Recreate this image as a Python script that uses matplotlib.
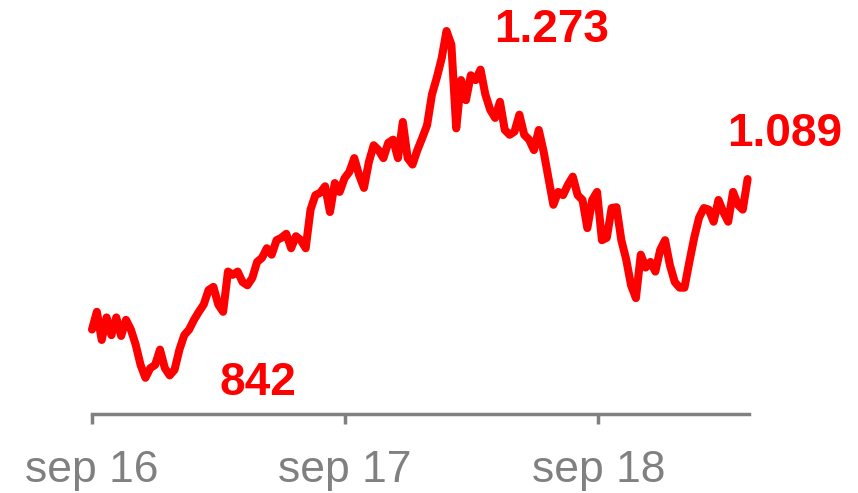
import matplotlib.pyplot as plt
import pandas as pd

# weekly closes, sep 2016 - apr 2019
start = "2016-09-01"
closes = [
    902, 924, 889, 917, 895, 917, 894, 914, 902, 883,
    858, 842, 854, 858, 877, 854, 845, 852, 877, 895,
    902, 914, 924, 933, 951, 955, 933, 924, 974, 970,
    974, 961, 957, 966, 986, 991, 1003, 995, 1013, 1016,
    1021, 1003, 1018, 1013, 1003, 1051, 1069, 1072, 1080, 1048,
    1084, 1073, 1090, 1098, 1115, 1094, 1078, 1110, 1131, 1125,
    1115, 1134, 1138, 1115, 1160, 1115, 1107, 1125, 1140, 1156,
    1194, 1215, 1239, 1273, 1256, 1152, 1212, 1187, 1218, 1212,
    1225, 1194, 1175, 1165, 1185, 1150, 1144, 1148, 1169, 1144,
    1138, 1125, 1150, 1123, 1090, 1057, 1073, 1069, 1082, 1092,
    1069, 1063, 1028, 1063, 1073, 1013, 1016, 1053, 1054, 1013,
    989, 957, 941, 995, 979, 986, 974, 1001, 1013, 982,
    961, 954, 954, 986, 1016, 1041, 1053, 1051, 1036, 1063,
    1048, 1036, 1073, 1057, 1051, 1089,
]
tick_dates = ["2016-09-01", "2017-09-01", "2018-09-01"]
tick_labels = ["sep 16", "sep 17", "sep 18"]

dates = pd.date_range(start, periods=len(closes), freq="7D")
s = pd.Series(closes, index=dates)

RED = "#ff0000"
GREY = "#808080"


def nl_fmt(v):
    return f"{v:,}".replace(",", ".")


fig = plt.figure(figsize=(8.58, 4.93), dpi=100)
ax = fig.add_axes([92 / 858, 79 / 493, (749 - 92) / 858, (414 - 31) / 493])

ax.plot(s.index, s.values, color=RED, lw=5.8, solid_joinstyle="round",
        solid_capstyle="round", clip_on=False)

ax.set_xlim(s.index[0], s.index[-1] + pd.Timedelta(days=2))
ax.set_ylim(797, 1273)

for side in ("top", "right", "left"):
    ax.spines[side].set_visible(False)
ax.spines["bottom"].set_color(GREY)
ax.spines["bottom"].set_linewidth(2.5)
ax.set_yticks([])
ax.set_xticks(pd.to_datetime(tick_dates))
ax.set_xticklabels(tick_labels, family="Liberation Sans", fontsize=32, color=GREY)
ax.tick_params(axis="x", length=7.5, width=2.5, color=GREY, pad=18.5)

# min / max / last labels
lo, hi, last = s.idxmin(), s.idxmax(), s.index[-1]
label_kw = dict(textcoords="offset pixels", color=RED, fontsize=33,
                fontweight="bold", family="Liberation Sans", va="center", ha="center")
ax.annotate(nl_fmt(s[lo]), (lo, s[lo]), xytext=(113, -5), **label_kw)
ax.annotate(nl_fmt(s[hi]), (hi, s[hi]), xytext=(105, 1), **label_kw)
ax.annotate(nl_fmt(s[last]), (last, s[last]), xytext=(37, 45), **label_kw)

fig.savefig("out.png", dpi=100)
